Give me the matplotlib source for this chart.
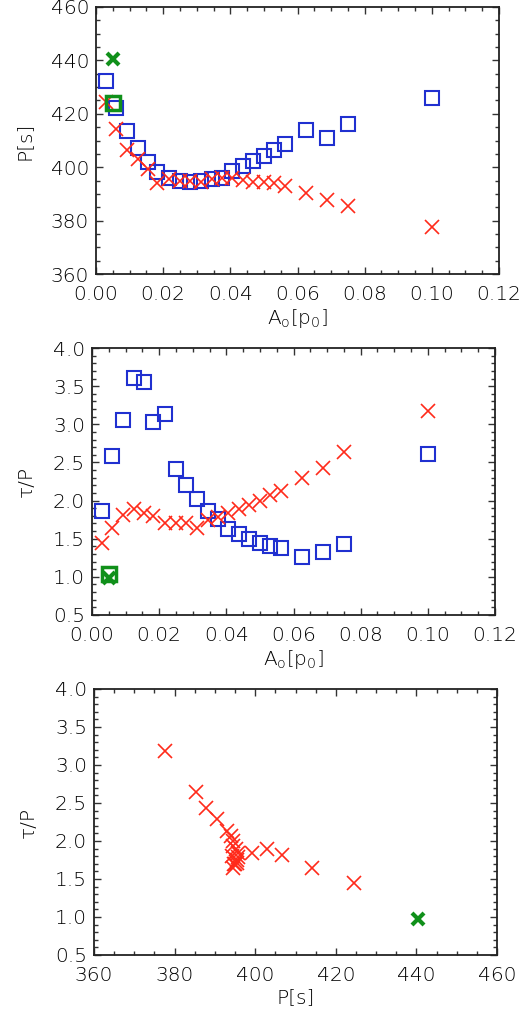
import numpy as np
import matplotlib
matplotlib.use("Agg")
import matplotlib.pyplot as plt
from matplotlib.ticker import MultipleLocator

# amplitude A_o [p0], common to both series
amp = [0.003, 0.0061, 0.0093, 0.0125, 0.0156, 0.0182, 0.0217, 0.0249, 0.028, 0.0312, 0.0344,
       0.0376, 0.0406, 0.0437, 0.0468, 0.05, 0.053, 0.0563, 0.0625, 0.0687, 0.075, 0.1]

# blue squares
p_blue = [432.3, 422.3, 413.5, 407.3, 402.0, 398.3, 396.0, 394.9, 394.5, 395.0, 395.5,
          396.0, 398.5, 400.5, 402.3, 404.3, 406.4, 408.6, 413.9, 411.1, 416.1, 425.8]
tp_blue = [1.86, 2.59, 3.05, 3.61, 3.55, 3.03, 3.13, 2.42, 2.21, 2.02, 1.86,
           1.76, 1.63, 1.56, 1.49, 1.44, 1.41, 1.38, 1.26, 1.32, 1.43, 2.61]

# red crosses
p_red = [424.5, 414.2, 406.6, 402.9, 399.2, 394.2, 395.4, 394.9, 394.7, 394.4, 395.4,
         395.8, 395.8, 395.2, 394.5, 394.5, 393.9, 392.9, 390.4, 387.9, 385.4, 377.7]
tp_red = [1.45, 1.64, 1.81, 1.89, 1.84, 1.80, 1.71, 1.70, 1.70, 1.64, 1.75,
          1.79, 1.84, 1.89, 1.94, 2.00, 2.07, 2.13, 2.29, 2.43, 2.64, 3.18]

# green reference point
amp_green = 0.005
p_green_x, p_green_sq = 440.4, 424.2
tp_green_x, tp_green_sq = 0.98, 1.04

plt.rcParams['font.family'] = 'DejaVu Sans'
plt.rcParams['font.weight'] = 'light'
plt.rcParams['axes.labelweight'] = 'light'
plt.rcParams['font.size'] = 14.5
plt.rcParams['mathtext.fontset'] = 'custom'
plt.rcParams['mathtext.rm'] = 'DejaVu Sans:light'

fig = plt.figure(figsize=(5.25, 10.25), dpi=100)
W, H = 525.0, 1025.0


def box(l, r, t, b):
    return [l / W, 1 - b / H, (r - l) / W, (b - t) / H]


ax1 = fig.add_axes(box(96, 499, 7, 274))
ax2 = fig.add_axes(box(92, 495, 348, 615))
ax3 = fig.add_axes(box(94, 497, 689, 955))

red = '#ff2a1a'
blue = '#2030d0'
green = '#10901a'
ms_sq = 10
ms_x = 9.5

ax1.plot(amp, p_blue, 's', mfc='none', mec=blue, ms=ms_sq, mew=1.5)
ax1.plot(amp, p_red, 'x', color=red, ms=ms_x, mew=1.2)
ax1.plot(amp_green, p_green_x, 'x', color=green, ms=8, mew=3)
ax1.plot(amp_green, p_green_sq, 's', mfc='none', mec=green, ms=9.5, mew=2.5)
ax1.set_xlim(0, 0.12)
ax1.set_ylim(360, 460)
ax1.xaxis.set_major_locator(MultipleLocator(0.02))
ax1.xaxis.set_minor_locator(MultipleLocator(0.005))
ax1.yaxis.set_major_locator(MultipleLocator(20))
ax1.yaxis.set_minor_locator(MultipleLocator(5))
ax1.xaxis.set_major_formatter(plt.FormatStrFormatter('%.2f'))
ax1.set_xlabel(r'A$_\mathrm{o}$[p$_\mathrm{0}$]')
ax1.set_ylabel('P[s]')

ax2.plot(amp, tp_blue, 's', mfc='none', mec=blue, ms=ms_sq, mew=1.5)
ax2.plot(amp, tp_red, 'x', color=red, ms=ms_x, mew=1.2)
ax2.plot(amp_green, tp_green_sq, 's', mfc='none', mec=green, ms=9.5, mew=2.5)
ax2.plot(amp_green, tp_green_x, 'x', color=green, ms=8, mew=3)
ax2.set_xlim(0, 0.12)
ax2.set_ylim(0.5, 4.0)
ax2.xaxis.set_major_locator(MultipleLocator(0.02))
ax2.xaxis.set_minor_locator(MultipleLocator(0.005))
ax2.yaxis.set_major_locator(MultipleLocator(0.5))
ax2.yaxis.set_minor_locator(MultipleLocator(0.1))
ax2.xaxis.set_major_formatter(plt.FormatStrFormatter('%.2f'))
ax2.yaxis.set_major_formatter(plt.FormatStrFormatter('%.1f'))
ax2.set_xlabel(r'A$_\mathrm{o}$[p$_\mathrm{0}$]')
ax2.set_ylabel('\u03c4/P')

ax3.plot(p_red, tp_red, 'x', color=red, ms=ms_x, mew=1.2)
ax3.plot(p_green_x, tp_green_x, 'x', color=green, ms=8, mew=3)
ax3.set_xlim(360, 460)
ax3.set_ylim(0.5, 4.0)
ax3.xaxis.set_major_locator(MultipleLocator(20))
ax3.xaxis.set_minor_locator(MultipleLocator(5))
ax3.yaxis.set_major_locator(MultipleLocator(0.5))
ax3.yaxis.set_minor_locator(MultipleLocator(0.1))
ax3.yaxis.set_major_formatter(plt.FormatStrFormatter('%.1f'))
ax3.set_xlabel('P[s]')
ax3.set_ylabel('\u03c4/P')

for ax in (ax1, ax2, ax3):
    ax.tick_params(which='both', direction='in', top=True, right=True, color='#333333')
    ax.tick_params(which='major', length=5, width=1)
    ax.tick_params(which='minor', length=3, width=1)
    ax.tick_params(axis='x', pad=8)
    ax.tick_params(axis='y', pad=5)
    for s in ax.spines.values():
        s.set_linewidth(1.3)
        s.set_color('#222222')
    ax.xaxis.label.set_size(14.5)
    ax.yaxis.label.set_size(14.5)
    ax.yaxis.labelpad = 12
    ax.xaxis.labelpad = 2

fig.savefig('out.png', dpi=100)
